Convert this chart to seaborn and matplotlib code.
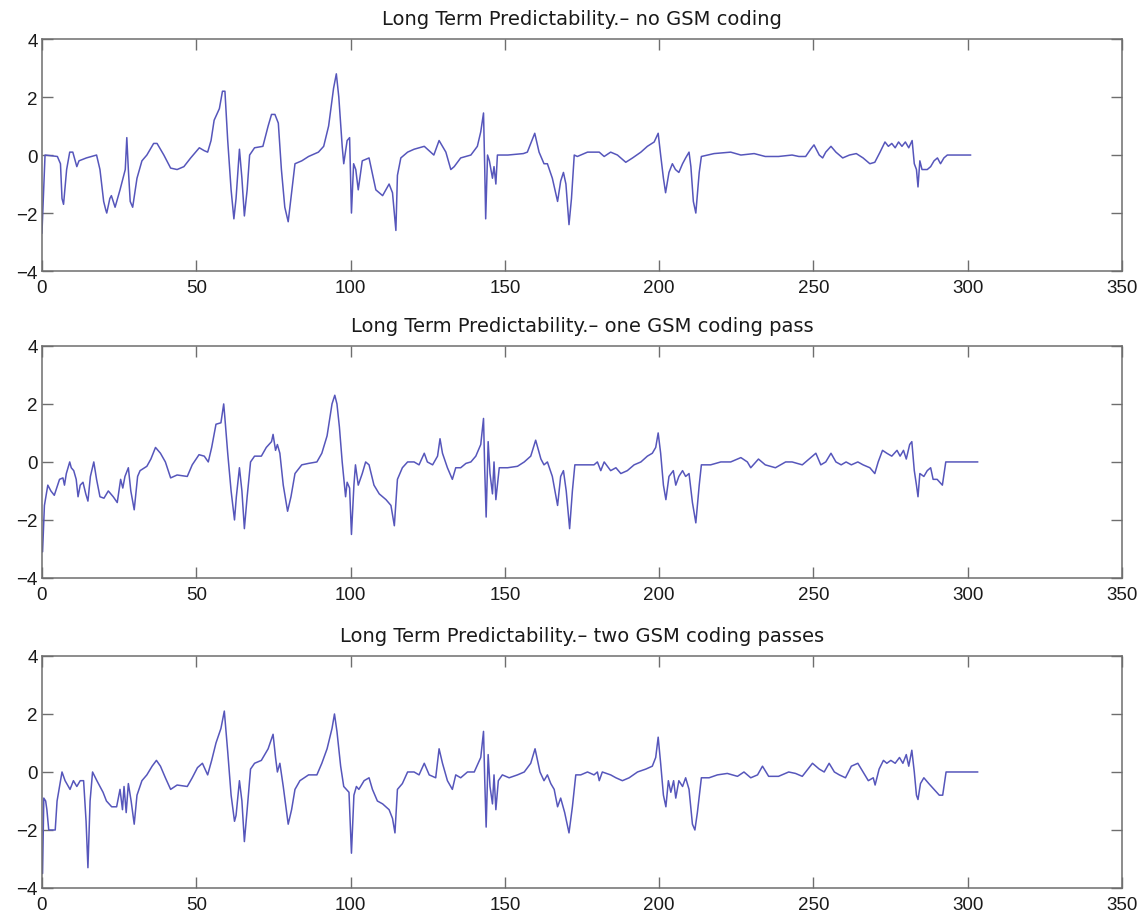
import numpy as np
import pandas as pd
import seaborn as sns
import matplotlib.pyplot as plt

# --- data (frame index, value) ---
TITLES = [
    "Long Term Predictability.\u2013 no GSM coding",
    "Long Term Predictability.\u2013 one GSM coding pass",
    "Long Term Predictability.\u2013 two GSM coding passes",
]

t_none = [0, 1, 5, 6, 6.5, 7, 8, 9, 10, 11.3, 12, 14.4, 17.7, 18.8, 20, 20.7, 21, 22, 22.5, 23.7, 25.3, 27, 27.5,
          28, 28.6, 29.4, 30.8, 32.4, 34, 36.2, 37.3, 39.5, 41.7, 43.8, 46, 48.2, 51, 52.6, 53.7, 54.8, 55.8,
          57.5, 58.5, 59.3, 60.2, 61.3, 62.2, 62.9, 64, 64.8, 65.6, 66.5, 67.3, 68.9, 71.6, 73.3, 74.4, 75.5,
          76.6, 77.6, 78.7, 79.8, 80.9, 82, 84.2, 86.4, 89.6, 91.3, 92.9, 94.5, 95.4, 96.2, 97.3, 97.8, 98.9,
          99.7, 100.3, 101, 101.7, 102.5, 103.8, 106, 108.2, 110.4, 112.5, 113.6, 114.7, 115.2, 116.3, 118.5,
          120.6, 123.9, 126, 127, 128.7, 129.8, 130.9, 132.5, 133.6, 135.7, 139, 141.1, 142.2, 143.1, 143.5,
          143.8, 144.4, 145, 145.5, 146, 146.5, 147.1, 147.6, 148.7, 151, 156, 157.3, 158.4, 159.7, 161.1,
          162.7, 163.8, 165.4, 167.1, 168.1, 169, 169.8, 170.8, 171.6, 172.5, 173.5, 176.8, 178.9, 180.6,
          182.2, 184.3, 186.5, 189.2, 191.4, 194.1, 196.2, 198.4, 199.7, 200.5, 201.4, 202.1, 203.2, 204.3,
          205.3, 206.4, 207.6, 208.6, 209.7, 210.3, 211.1, 211.9, 213, 213.7, 215.7, 217.8, 223.2, 226.5,
          230.8, 234.4, 238.7, 243.1, 245.3, 247.5, 249.1, 250.2, 251.9, 253, 254, 255.7, 257.3, 259.5, 261.7,
          263.9, 266.1, 268.3, 269.9, 271.6, 273.2, 274.3, 275.4, 276.5, 277.6, 278.7, 279.8, 280.9, 282,
          282.7, 283.4, 283.9, 284.5, 285.2, 286.9, 288, 289.1, 290.2, 291.2, 292.3, 293.4, 301]
v_none = [-2.7, 0.0, -0.05, -0.3, -1.5, -1.7, -0.5, 0.1, 0.1, -0.4, -0.2, -0.1, 0.0, -0.5, -1.6, -1.9, -2.0, -1.5,
          -1.4, -1.8, -1.2, -0.5, 0.6, -0.5, -1.6, -1.8, -0.8, -0.2, 0.0, 0.4, 0.4, 0.0, -0.45, -0.5, -0.4, -0.1,
          0.25, 0.15, 0.1, 0.5, 1.2, 1.6, 2.2, 2.2, 0.5, -1.2, -2.2, -1.5, 0.2, -0.8, -2.1, -1.2, 0.0, 0.25, 0.3,
          1.0, 1.4, 1.4, 1.1, -0.5, -1.8, -2.3, -1.3, -0.3, -0.2, -0.05, 0.1, 0.3, 1.0, 2.3, 2.8, 2.0, 0.3, -0.3,
          0.5, 0.6, -2.0, -0.3, -0.5, -1.2, -0.2, -0.1, -1.2, -1.4, -1.0, -1.3, -2.6, -0.7, -0.1, 0.1, 0.2, 0.3,
          0.1, 0.0, 0.5, 0.3, 0.1, -0.5, -0.4, -0.1, 0.0, 0.3, 0.8, 1.45, -0.5, -2.2, 0.0, -0.2, -0.5, -0.8, -0.4,
          -1.0, 0.0, 0.0, 0.0, 0.05, 0.1, 0.4, 0.75, 0.1, -0.3, -0.3, -0.8, -1.6, -0.9, -0.6, -1.0, -2.4, -1.5, 0.0,
          -0.05, 0.1, 0.1, 0.1, -0.05, 0.1, 0.0, -0.25, -0.1, 0.1, 0.3, 0.45, 0.75, 0.0, -0.8, -1.3, -0.6, -0.3,
          -0.5, -0.6, -0.3, -0.1, 0.1, -0.4, -1.6, -2.0, -0.6, -0.05, 0.0, 0.05, 0.1, 0.0, 0.05, -0.05, -0.05,
          0.0, -0.05, -0.05, 0.2, 0.35, 0.0, -0.1, 0.1, 0.3, 0.1, -0.1, 0.0, 0.05, -0.1, -0.3, -0.25, 0.1, 0.45,
          0.3, 0.4, 0.25, 0.45, 0.3, 0.45, 0.25, 0.5, -0.3, -0.5, -1.1, -0.2, -0.5, -0.5, -0.4, -0.2, -0.1, -0.3,
          -0.1, 0.0, 0.0]

t_one = [0.2, 0.8, 1.9, 2.9, 4, 5.7, 6.8, 7.3, 7.9, 9, 9.5, 10.3, 11.1, 11.7, 12.4, 13.3, 14.2, 14.9, 15.7, 16.8,
         17.7, 18.8, 20.1, 21.5, 23.1, 24.4, 25.5, 26.2, 26.9, 28, 28.8, 29.9, 31, 31.8, 34, 35.3, 36.8, 38.4, 40,
         41.7, 43.8, 47.1, 48.7, 50.9, 52.6, 53.9, 55, 56.4, 58, 58.9, 59.3, 60.2, 61.3, 62.4, 63, 64, 64.8, 65.6,
         66.5, 67.6, 68.9, 71.1, 72.7, 74.4, 74.9, 75.7, 76.3, 77.1, 78.2, 79.6, 80.7, 82, 84.2, 86.4, 89.1, 90.7,
         92.4, 94, 94.9, 95.6, 96.4, 97.3, 98.4, 98.9, 99.7, 100.3, 101.1, 101.6, 102.5, 103.8, 104.9, 106, 107.6,
         109.3, 111.5, 113.1, 114.2, 115.2, 116.8, 118.5, 120.6, 122.2, 123.9, 124.9, 126.6, 128.2, 129, 129.8,
         131.4, 133, 134.1, 135.7, 137.4, 139, 140.6, 142.2, 143.1, 143.5, 143.95, 144.6, 145.2, 146, 146.5,
         147.1, 148.2, 150.9, 154.1, 156.3, 158.4, 160, 161.7, 162.7, 163.8, 165.4, 167.1, 168.1, 169, 169.9, 171,
         171.9, 172.7, 174.6, 176.8, 178.9, 180, 181.1, 182.2, 184.3, 186, 187.6, 189.7, 191.9, 194.1, 196.2,
         197.8, 198.9, 199.7, 200.5, 201.4, 202.2, 203.2, 204.6, 205.4, 206.4, 207.6, 208.6, 209.7, 210.8, 211.9,
         213, 213.7, 216.7, 220, 223.2, 226.5, 228.6, 229.7, 232.2, 234.4, 237.7, 241, 243.1, 246.4, 249.7, 250.8,
         252.4, 254, 255.7, 257.3, 259, 260.6, 262.3, 264.4, 266.1, 268.3, 269.9, 271, 272.4, 273.8, 275.4,
         277.1, 278.1, 279.2, 280.1, 281.2, 281.9, 282.7, 283.4, 283.9, 284.5, 285.8, 286.9, 288, 288.8, 290.1,
         291.8, 292.9, 303.3]
v_one = [-3.1, -1.5, -0.8, -1.0, -1.15, -0.6, -0.55, -0.8, -0.4, 0.0, -0.2, -0.3, -0.6, -1.2, -0.8, -0.7, -1.1,
         -1.35, -0.5, 0.0, -0.6, -1.2, -1.25, -1.0, -1.2, -1.4, -0.6, -0.9, -0.5, -0.2, -1.0, -1.65, -0.5, -0.3,
         -0.15, 0.1, 0.5, 0.3, 0.0, -0.55, -0.45, -0.5, -0.1, 0.25, 0.2, 0.0, 0.5, 1.3, 1.35, 2.0, 1.5, 0.3, -1.0,
         -2.0, -1.2, -0.2, -1.0, -2.3, -1.2, 0.0, 0.2, 0.2, 0.5, 0.7, 0.95, 0.4, 0.6, 0.3, -0.8, -1.7, -1.2, -0.4,
         -0.1, -0.05, 0.0, 0.3, 0.9, 2.0, 2.3, 2.0, 1.2, 0.0, -1.2, -0.7, -0.9, -2.5, -0.8, -0.1, -0.8, -0.4, 0.0,
         -0.1, -0.8, -1.1, -1.3, -1.5, -2.2, -0.6, -0.2, 0.0, 0.0, -0.1, 0.3, 0.0, -0.1, 0.2, 0.8, 0.3, -0.2,
         -0.6, -0.2, -0.2, -0.05, 0.0, 0.2, 0.6, 1.5, -0.3, -1.9, 0.7, -0.4, -1.1, 0.0, -1.3, -0.2, -0.2, -0.15,
         0.0, 0.2, 0.75, 0.1, -0.1, 0.0, -0.5, -1.5, -0.5, -0.3, -1.0, -2.3, -1.0, -0.1, -0.1, -0.1, -0.1, 0.0,
         -0.3, 0.0, -0.3, -0.2, -0.4, -0.3, -0.1, 0.0, 0.2, 0.3, 0.5, 1.0, 0.3, -0.8, -1.3, -0.5, -0.3, -0.8,
         -0.5, -0.3, -0.5, -0.4, -1.4, -2.1, -0.8, -0.1, -0.1, 0.0, 0.0, 0.15, 0.0, -0.2, 0.1, -0.1, -0.2, 0.0,
         0.0, -0.1, 0.2, 0.3, -0.1, 0.0, 0.3, 0.0, -0.1, 0.0, -0.1, 0.0, -0.1, -0.2, -0.4, 0.0, 0.4, 0.3, 0.2,
         0.4, 0.2, 0.4, 0.1, 0.6, 0.7, -0.3, -0.8, -1.2, -0.4, -0.5, -0.3, -0.2, -0.6, -0.6, -0.8, 0.0, 0.0]

t_two = [0.2, 0.6, 1.2, 1.6, 2.2, 2.9, 3.5, 4.3, 4.9, 6.5, 7.5, 9.1, 10.2, 11.3, 12.4, 13.5, 14.3, 14.9,
         15.6, 16.4, 17.8, 19.8, 20.9, 22.6, 24.2, 25.3, 26.1, 26.6, 27.3, 28, 28.9, 29.9, 30.8, 32.4, 34,
         35.7, 37.1, 38.4, 40, 41.7, 43.8, 47.1, 48.7, 50.4, 52, 53.7, 55, 56.4, 58, 59.1, 60.2, 61.3, 62.4, 62.9,
         64, 64.8, 65.6, 66.5, 67.6, 68.9, 71.1, 73.3, 74.9, 75.7, 76.3, 77.1, 78.2, 79.8, 80.9, 82, 83.6, 86.4,
         89.1, 90.7, 92.4, 94, 94.8, 95.6, 96.8, 97.8, 99.5, 100.3, 101.1, 101.9, 102.7, 104.4, 106, 107.1,
         108.7, 110.4, 112.5, 113.6, 114.4, 115.2, 116.8, 118.5, 120.6, 122.2, 123.9, 125.5, 127.6, 128.7, 129.8,
         131.4, 133, 134.1, 135.7, 137.9, 140.1, 142.2, 143.1, 143.5, 143.95, 144.6, 145.2, 146, 146.5, 147.1,
         147.9, 149.2, 151.4, 154.1, 156.3, 158.4, 159.8, 161.4, 162.7, 163.8, 164.9, 166, 167.1, 168.1, 169.4,
         170.8, 171.9, 173, 174.6, 176.8, 178.9, 180, 180.6, 181.6, 184.3, 186, 188.1, 190.3, 193, 195.7, 197.8,
         198.9, 199.7, 200.5, 201.4, 202.2, 203, 203.8, 204.7, 205.4, 206.4, 207.6, 208.6, 209.7, 210.8, 211.6,
         212.4, 213.7, 216.2, 218.9, 222.1, 225.4, 227.5, 229.7, 231.9, 233.5, 235.5, 238.7, 242, 244.2, 246.4,
         249.7, 251.9, 253.5, 255.1, 256.8, 258.4, 260.4, 262.3, 264.4, 266.1, 267.8, 269.4, 270, 271.3, 272.7,
         273.8, 275.1, 276.5, 277.9, 279, 280.1, 280.9, 281.9, 282.7, 283.4, 283.9, 284.7, 285.8, 287.4, 289.1,
         290.8, 291.9, 293, 303.3]
v_two = [-3.5, -0.9, -1.0, -1.3, -2.0, -2.0, -2.0, -2.0, -1.0, 0.0, -0.3, -0.6, -0.3, -0.5, -0.3, -0.3, -1.7,
         -3.3, -1.0, 0.0, -0.3, -0.7, -1.0, -1.2, -1.2, -0.6, -1.3, -0.5, -1.4, -0.4,
         -1.0, -1.8, -0.8, -0.3, -0.1, 0.2, 0.4, 0.2, -0.2, -0.6, -0.45, -0.5, -0.2, 0.15, 0.3, -0.1, 0.4, 1.0,
         1.5, 2.1, 0.7, -0.8, -1.7, -1.5, -0.3, -1.0, -2.4, -1.3, 0.1, 0.3, 0.4, 0.8, 1.3, 0.5, 0.0, 0.3, -0.5,
         -1.8, -1.3, -0.6, -0.3, -0.1, -0.1, 0.3, 0.8, 1.5, 2.0, 1.4, 0.2, -0.5, -0.7, -2.8, -0.8, -0.5, -0.6,
         -0.3, -0.2, -0.6, -1.0, -1.1, -1.3, -1.6, -2.1, -0.6, -0.4, 0.0, 0.0, -0.1, 0.3, -0.1, -0.2, 0.8, 0.3,
         -0.3, -0.6, -0.1, -0.2, 0.0, 0.0, 0.5, 1.4, -0.3, -1.9, 0.6, -0.5, -1.1, -0.1, -1.3, -0.3, -0.1, -0.2,
         -0.1, 0.0, 0.3, 0.8, 0.0, -0.3, -0.1, -0.4, -0.6, -1.2, -0.9, -1.4, -2.1, -1.2, -0.1, -0.1, 0.0, -0.1,
         0.0, -0.3, 0.0, -0.1, -0.2, -0.3, -0.2, 0.0, 0.1, 0.2, 0.5, 1.2, 0.3, -0.8, -1.2, -0.3, -0.7, -0.3, -0.9,
         -0.3, -0.5, -0.2, -0.6, -1.8, -2.0, -1.4, -0.2, -0.2, -0.1, -0.05, -0.15, 0.0, -0.2, -0.1, 0.2, -0.15,
         -0.15, 0.0, -0.05, -0.15, 0.3, 0.1, 0.0, 0.3, 0.0, -0.1, -0.2, 0.2, 0.3, 0.0, -0.3, -0.2, -0.45, 0.1,
         0.4, 0.3, 0.4, 0.3, 0.5, 0.3, 0.6, 0.2, 0.75, 0.0, -0.8, -0.95, -0.4, -0.2, -0.4, -0.6, -0.8, -0.8, 0.0,
         0.0]

series = [(t_none, v_none), (t_one, v_one), (t_two, v_two)]

sns.set_style("ticks")
plt.rcParams["font.family"] = ["Liberation Sans", "DejaVu Sans"]

fig = plt.figure(figsize=(11.43, 9.2), dpi=100)
# axes boxes in figure fractions (left, bottom, width, height)
boxes = [(0.0367, 0.7043, 0.9449, 0.2522),
         (0.0367, 0.3707, 0.9449, 0.2522),
         (0.0367, 0.0337, 0.9449, 0.2522)]

LINE_COLOR = "#5656bb"
EDGE = "#6e6e6e"

for (t, v), title, box in zip(series, TITLES, boxes):
    ax = fig.add_axes(box)
    df = pd.DataFrame({"frame": t, "value": v})
    sns.lineplot(data=df, x="frame", y="value", ax=ax, color=LINE_COLOR,
                 linewidth=1.1, estimator=None, sort=False)
    ax.set_xlim(0, 350)
    ax.set_ylim(-4, 4)
    ax.set_xticks(np.arange(0, 351, 50))
    ax.set_yticks([-4, -2, 0, 2, 4])
    ax.set_xlabel("")
    ax.set_ylabel("")
    # the scanned title is wider than Arial at its height, DejaVu is closer
    ax.set_title(title, fontsize=14, pad=11, color="#1a1a1a", family="DejaVu Sans")
    for s in ax.spines.values():
        s.set_visible(True)
        s.set_color(EDGE)
        s.set_linewidth(1.1)
    ax.tick_params(direction="in", length=8, width=1.0, color=EDGE,
                   top=True, right=True, labelsize=13.5, labelcolor="#1a1a1a")
    ax.tick_params(axis="x", pad=6)
    ax.tick_params(axis="y", pad=3)

fig.savefig("out.png", dpi=100, facecolor="white")
